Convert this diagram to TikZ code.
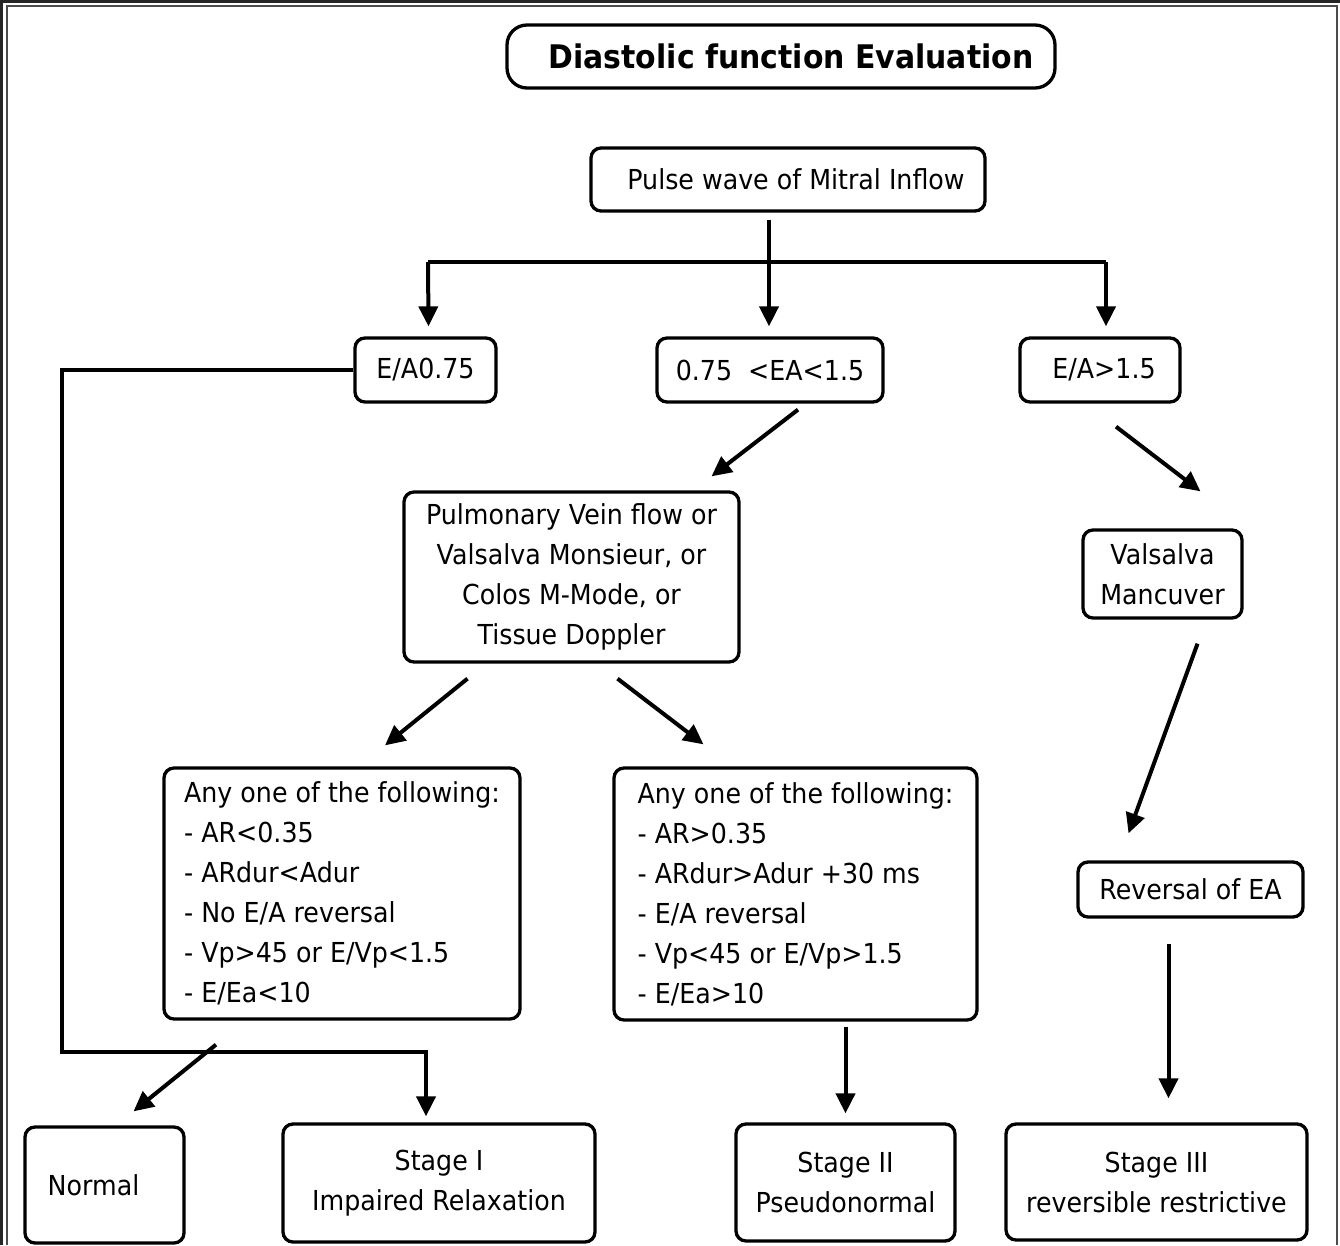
\documentclass[tikz,border=0pt]{standalone}
\usepackage{fontspec}
\setmainfont{DejaVu Sans}[FakeStretch=0.92]
\usetikzlibrary{arrows.meta}

\begin{document}
\begin{tikzpicture}[x=1pt,y=-1pt,
  every node/.style={font=\fontsize{27.5}{40}\selectfont},
  box/.style={draw,line width=3.3pt,rounded corners=10pt,align=center,inner sep=0pt},
  crit/.style={box,align=left},
  arr/.style={line width=4pt,-{Triangle[length=20pt,width=19pt]}},
  wire/.style={line width=4pt}]
        \useasboundingbox (0,0) rectangle (1340,1245);
        \draw[line width=5pt,black!85] (0,1245) -- (0,0) -- (1340,0);
        \draw[line width=1.5pt,black!70] (7,1245) -- (7,6) -- (1337,6) -- (1337,1245);

        \node[box,rounded corners=20pt,minimum width=548pt,minimum height=63pt,font=\fontsize{32.5}{36}\selectfont\bfseries] (title) at (781,56.5) {\hspace*{20pt}Diastolic function Evaluation};
        \node[box,minimum width=394pt,minimum height=63pt] (pulse) at (788,179.5) {\hspace*{16pt}Pulse wave of Mitral Inflow};
        \node[box,minimum width=141pt,minimum height=64pt] (ea1) at (425.5,370) {E/A0.75};
        \node[box,minimum width=226pt,minimum height=64pt] (ea2) at (770,370) {0.75 \ <EA<1.5};
        \node[box,minimum width=160pt,minimum height=64pt] (ea3) at (1100,370) {\hspace*{8pt}E/A>1.5};
        \node[box,minimum width=335pt,minimum height=170pt] (pulm) at (571.5,577) {Pulmonary Vein flow or\\Valsalva Monsieur, or\\Colos M-Mode, or\\Tissue Doppler};
        \node[box,minimum width=159pt,minimum height=88pt] (valsalva) at (1162.5,574) {Valsalva\\Mancuver};
        \node[crit,minimum width=356pt,minimum height=251pt] (crit1) at (342,893.5) {Any one of the following:\\- AR<0.35\\- ARdur<Adur\\- No E/A reversal\\- Vp>45 or E/Vp<1.5\\- E/Ea<10};
        \node[crit,minimum width=363pt,minimum height=252pt] (crit2) at (795.5,894) {Any one of the following:\\- AR>0.35\\- ARdur>Adur +30 ms\\- E/A reversal\\- Vp<45 or E/Vp>1.5\\- E/Ea>10};
        \node[box,minimum width=225pt,minimum height=55pt] (rev) at (1190.5,889.5) {Reversal of EA};
        \node[box,minimum width=159pt,minimum height=116pt] (normal) at (104.5,1185) {Normal\hspace*{22pt}};
        \node[box,minimum width=312pt,minimum height=118pt] (stage1) at (439,1183) {Stage I\\Impaired Relaxation};
        \node[box,minimum width=219pt,minimum height=117pt] (stage2) at (845.5,1182.5) {Stage II\\Pseudonormal};
        \node[box,minimum width=301pt,minimum height=116pt] (stage3) at (1156.5,1182) {Stage III\\reversible restrictive};

        \coordinate (bl) at (428,262);
        \coordinate (br) at (1106,262);
        \coordinate (lc) at (62,1052);

        \draw[wire] (bl) -- (br);
        \draw[arr] ([xshift=-19pt,yshift=-7pt]pulse.south) -- ([xshift=-1pt,yshift=10pt]ea2.north);
        \draw[arr] (bl) -- ([xshift=3pt,yshift=10pt]ea1.north);
        \draw[arr] (br) -- ([xshift=6pt,yshift=10pt]ea3.north);
        \draw[arr] ([xshift=28pt,yshift=-6pt]ea2.south) -- ([xshift=140pt,yshift=14pt]pulm.north);
        \draw[arr] ([xshift=-104pt,yshift=-15pt]pulm.south) -- ([xshift=43pt,yshift=21pt]crit1.north);
        \draw[arr] ([xshift=46pt,yshift=-15pt]pulm.south) -- ([xshift=-92pt,yshift=22pt]crit2.north);
        \draw[arr] ([xshift=16pt,yshift=-23pt]ea3.south) -- ([xshift=38pt,yshift=37pt]valsalva.north);
        \draw[arr] ([xshift=35pt,yshift=-24pt]valsalva.south) -- ([xshift=-62pt,yshift=27pt]rev.north);
        \draw[arr] ([xshift=-22pt,yshift=-25pt]rev.south) -- ([xshift=12pt,yshift=24pt]stage3.north);
        \draw[arr] ([xshift=-126pt,yshift=-24pt]crit1.south) -- ([xshift=29pt,yshift=14pt]normal.north);
        \draw[arr] ([xshift=50pt,yshift=-5pt]crit2.south) -- ([yshift=9pt]stage2.north);
        \draw[arr] (ea1.west) -| (lc) -| ([xshift=-13pt,yshift=6pt]stage1.north);
      \end{tikzpicture}
\end{document}
